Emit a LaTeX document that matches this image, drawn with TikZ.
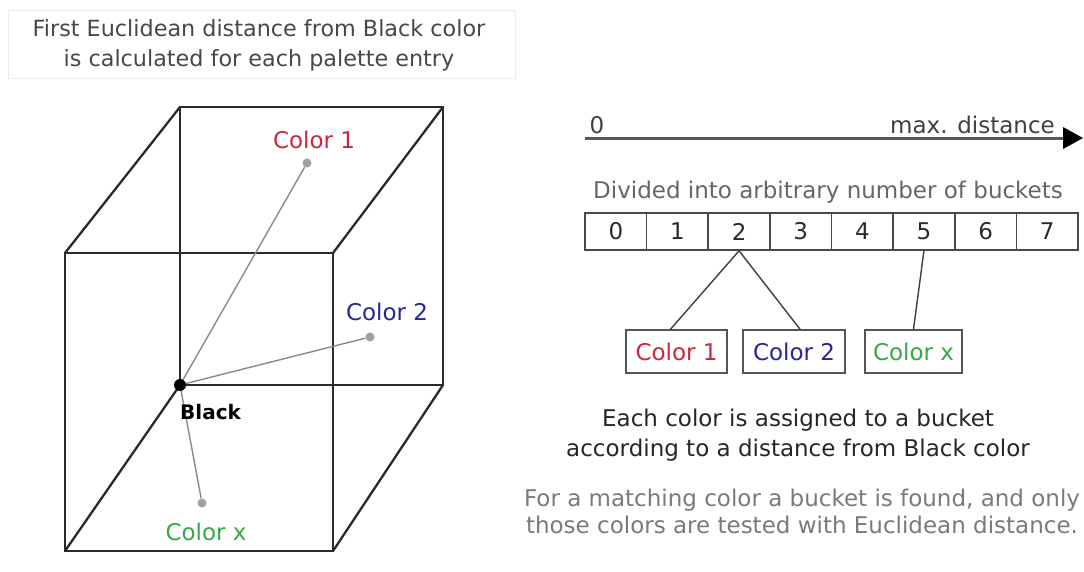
\documentclass[tikz,border=0pt]{standalone}
\usepackage{fontspec}
\setmainfont{DejaVu Sans}
\usetikzlibrary{arrows.meta}
\definecolor{cred}{HTML}{C8283C}
\definecolor{cblue}{HTML}{26269A}
\definecolor{cgreen}{HTML}{36A844}
\definecolor{edge}{HTML}{2A2A2A}
\definecolor{thin}{HTML}{8A8A8A}
\tikzset{
  f/.style={font=\fontsize{23}{30}\selectfont, inner sep=0pt},
  cubeedge/.style={draw=edge, line width=2.3pt},
  ray/.style={draw=thin, line width=1.4pt},
  dotg/.style={circle, fill=thin!80, inner sep=0pt, minimum size=9pt},
  cell/.style={draw=edge!85, line width=1.6pt, minimum width=61.625pt, minimum height=37pt, inner sep=0pt, font=\fontsize{23}{30}\selectfont, text=edge},
  cbox/.style={draw=edge!80, line width=1.6pt, minimum height=43pt, inner sep=0pt, font=\fontsize{23}{30}\selectfont},
  link/.style={draw=edge!90, line width=1.4pt}
}
\begin{document}
\begin{tikzpicture}[x=1pt,y=-1pt]
\useasboundingbox (0,0) rectangle (1084,571);
% title
\draw[draw=black!8, line width=1pt] (8,10) rectangle (515,78);
\node[f, text=black!72, align=center, font=\fontsize{22.3}{30}\selectfont] (title) at (259,45) {First Euclidean distance from Black color\\is calculated for each palette entry};
% cube corners
\coordinate (btl) at (180,107);
\coordinate (btr) at (443,107);
\coordinate (bbl) at (180,385);
\coordinate (bbr) at (443,385);
\coordinate (ftl) at (65,253);
\coordinate (ftr) at (333,253);
\coordinate (fbl) at (65,551);
\coordinate (fbr) at (333,551);
\draw[cubeedge] (btl) -- (btr) -- (bbr) -- (bbl) -- cycle;
\draw[cubeedge] (ftl) -- (ftr) -- (fbr) -- (fbl) -- cycle;
\draw[cubeedge] (ftl) -- (btl) (ftr) -- (btr) (fbl) -- (bbl) (fbr) -- (bbr);
% points
\node[dotg] (p1) at (307,163) {};
\node[dotg] (p2) at (370,337) {};
\node[dotg] (px) at (202,503) {};
\draw[ray] (bbl) -- (p1);
\draw[ray] (bbl) -- (p2);
\draw[ray] (bbl) -- (px);
\node[circle, fill=black, inner sep=0pt, minimum size=12pt] (black) at (bbl) {};
\node[f, text=cred] (l1) at (314,140) {Color 1};
\node[f, text=cblue] (l2) at (387,312) {Color 2};
\node[f, text=cgreen] (lx) at (206,532) {Color x};
\node[inner sep=0pt, anchor=west, font=\fontsize{20}{24}\selectfont\bfseries] (lb) at (180,412) {Black};
% axis
\coordinate (a0) at (585,138);
\coordinate (a1) at (1083,138);
\draw[draw=black!65, line width=3pt, -{Triangle[length=20pt,width=22pt,fill=black,line width=0pt]}] (a0) -- (a1);
\node[f, text=black!75] (zero) at (597,125) {0};
\node[f, text=black!75, anchor=east] (maxd) at (1055,125) {max. distance};
\node[f, text=black!60] (div) at (828,192) {Divided into arbitrary number of buckets};
% buckets
\foreach \i in {0,...,7} {
  \node[cell] (b\i) at ({585+61.625*(\i+0.5)},231.5) {\i};
}
% color boxes
\node[cbox, text=cred, minimum width=101pt] (c1) at (676.5,351.5) {Color 1};
\node[cbox, text=cblue, minimum width=102pt] (c2) at (794,351.5) {Color 2};
\node[cbox, text=cgreen, minimum width=97pt] (cx) at (913.5,351.5) {Color x};
\draw[link] (b2.south) -- ([xshift=-6pt]c1.north);
\draw[link] (b2.south) -- ([xshift=6pt]c2.north);
\draw[link] (b5.south) -- (cx.north);
% descriptions
\node[f, text=black!85, align=center] (each) at (798,435) {Each color is assigned to a bucket\\according to a distance from Black color};
\node[f, text=black!52, align=center, font=\fontsize{23}{27}\selectfont] (match) at (802,511) {For a matching color a bucket is found, and only\\those colors are tested with Euclidean distance.};
\end{tikzpicture}
\end{document}
